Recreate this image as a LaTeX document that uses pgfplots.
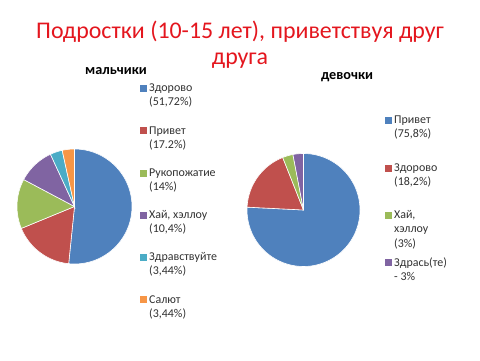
\documentclass[border=0pt]{standalone}
\usepackage{pgfplots}
\pgfplotsset{compat=1.18}
\usepackage{fontspec}
\setmainfont{Carlito}
\definecolor{c1}{RGB}{79,129,189}
\definecolor{c2}{RGB}{192,80,77}
\definecolor{c3}{RGB}{155,187,89}
\definecolor{c4}{RGB}{128,100,162}
\definecolor{c5}{RGB}{75,172,198}
\definecolor{c6}{RGB}{247,150,70}
\definecolor{ttl}{RGB}{228,22,30}
\definecolor{txt}{RGB}{50,50,50}
% slice: start%, end%, total, colour
\newcommand{\pieslice}[4]{%
  \pgfmathsetmacro{\angA}{90-#2/#3*360}%
  \pgfmathsetmacro{\angB}{90-#1/#3*360}%
  \edef\temp{\noexpand\addplot[fill=#4, draw=white, line width=0.6pt, domain=\angA:\angB, samples=80] ({cos(x)},{sin(x)}) -- (axis cs:0,0) -- cycle;}%
  \temp}
% legend entry: x of square, baseline y (image px), colour, line1, line2
\newcommand{\legentry}[5]{%
  \fill[#3] (#1,360-#2) rectangle ++(7,7);
  \node at (#1+9.5,360-#2) {#4};
  \node at (#1+9.5,360-#2-14.4) {#5};}
\begin{document}
\begin{tikzpicture}[x=1bp,y=1bp]
\useasboundingbox[fill=white] (0,0) rectangle (480,360);
% title
\node[anchor=base, text=ttl, font=\fontsize{24}{28}\selectfont] at (240,360-38.5) {Подростки (10-15 лет), приветствуя друг};
\node[anchor=base, text=ttl, font=\fontsize{24}{28}\selectfont] at (240,360-64.5) {друга};
% boys pie
\begin{axis}[at={(74.5bp,153.5bp)}, anchor=center, scale only axis, width=115bp, height=115bp,
  xmin=-1, xmax=1, ymin=-1, ymax=1, hide axis, clip=false]
% Здорово 51.72, Привет 17.2, Рукопожатие 14, Хай 10.4, Здравствуйте 3.44, Салют 3.44
\pieslice{0}{51.72}{100.2}{c1}
\pieslice{51.72}{68.92}{100.2}{c2}
\pieslice{68.92}{82.92}{100.2}{c3}
\pieslice{82.92}{93.32}{100.2}{c4}
\pieslice{93.32}{96.76}{100.2}{c5}
\pieslice{96.76}{100.2}{100.2}{c6}
\end{axis}
% girls pie
\begin{axis}[at={(303.5bp,150bp)}, anchor=center, scale only axis, width=113bp, height=113bp,
  xmin=-1, xmax=1, ymin=-1, ymax=1, hide axis, clip=false]
% Привет 75.8, Здорово 18.2, Хай 3, Здрась 3
\pieslice{0}{75.8}{100}{c1}
\pieslice{75.8}{94}{100}{c2}
\pieslice{94}{97}{100}{c3}
\pieslice{97}{100}{100}{c4}
\end{axis}
% subtitles
\node[anchor=base, font=\bfseries\fontsize{14.3}{17}\selectfont, text=black] at (116,360-74) {мальчики};
\node[anchor=base, font=\bfseries\fontsize{14.3}{17}\selectfont, text=black] at (347,360-79) {девочки};
% legends
\begin{scope}[every node/.style={anchor=base west, inner sep=0pt, text=txt, font=\fontsize{12}{14}\selectfont}]
\legentry{139.5}{91.5}{c1}{Здорово}{(51,72\%)}
\legentry{139.5}{134}{c2}{Привет}{(17.2\%)}
\legentry{139.5}{176.5}{c3}{Рукопожатие}{(14\%)}
\legentry{139.5}{218.5}{c4}{Хай, хэллоу}{(10,4\%)}
\legentry{139.5}{260.5}{c5}{Здравствуйте}{(3,44\%)}
\legentry{139.5}{303}{c6}{Салют}{(3,44\%)}
\legentry{384.5}{123.5}{c1}{Привет}{(75,8\%)}
\legentry{384.5}{171.5}{c2}{Здорово}{(18,2\%)}
\legentry{384.5}{218.5}{c3}{Хай,}{хэллоу}
\node at (394,360-247.3) {(3\%)};
\legentry{384.5}{266}{c4}{Здрась(те)}{- 3\%}
\end{scope}
\end{tikzpicture}
\end{document}
